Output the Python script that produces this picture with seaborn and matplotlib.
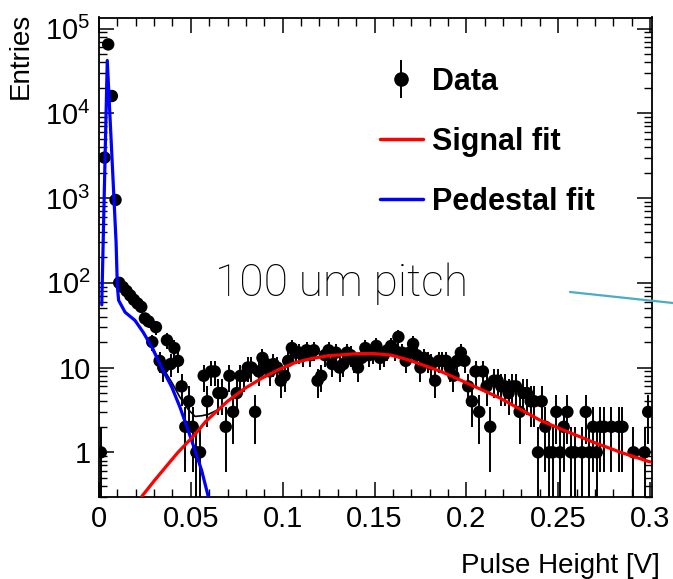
import numpy as np
import pandas as pd
import matplotlib
matplotlib.use("Agg")
import matplotlib.pyplot as plt
import seaborn as sns
from matplotlib.lines import Line2D
from matplotlib.legend_handler import HandlerTuple
from matplotlib.ticker import FixedLocator, MultipleLocator, LogLocator, NullFormatter

# ---- histogram of pulse heights (bin width 2 mV, 0 - 0.3 V) ----
bin_width = 0.002
counts = [
    1, 3000, 65000, 16000, 950, 100, 89, 80, 71, 63,
    57, 52, 38, 35, 20, 30, 12, 10, 21, 11,
    17, 12, 6, 2, 4, 2, 1, 1, 8, 4,
    9, 9, 5, 5, 2, 8, 3, 5, 8, 8,
    10, 10, 3, 9, 13, 11, 9, 11, 10, 7,
    8, 12, 17, 15, 15, 14, 16, 14, 16, 7,
    8, 14, 16, 11, 15, 10, 11, 15, 14, 12,
    10, 13, 17, 14, 15, 18, 13, 14, 16, 18,
    16, 23, 15, 12, 15, 19, 14, 10, 13, 12,
    11, 7, 12, 12, 12, 10, 8, 12, 15, 12,
    6, 4, 9, 3, 9, 6, 2, 7, 7, 6,
    6, 5, 6, 6, 3, 5, 5, 4, 4, 1,
    4, 2, 1, 1, 3, 1, 2, 3, 1, 1,
    0, 1, 3, 1, 2, 1, 2, 2, 0, 2,
    0, 2, 2, 0, 0, 1, 0, 0, 1, 3,
]

# ---- fitted curves ----
signal_x = [0.0232, 0.030, 0.037, 0.043, 0.052, 0.058, 0.070, 0.0795, 0.0887, 0.098,
            0.107, 0.116, 0.125, 0.141, 0.150, 0.159, 0.168, 0.177, 0.1866, 0.195,
            0.218, 0.240, 0.251, 0.269, 0.284, 0.300]
signal_y = [0.30, 0.46, 0.70, 1.0, 1.6, 2.3, 4.0, 5.7, 7.5, 9.5,
            11.5, 12.8, 13.8, 14.6, 14.6, 14.0, 12.4, 10.6, 8.9, 7.4,
            4.4, 2.4, 1.9, 1.32, 1.0, 0.77]

pedestal_x = [0.0015, 0.0045, 0.0093, 0.0100, 0.0107, 0.0142, 0.0196, 0.0241, 0.0287,
              0.0341, 0.0396, 0.0441, 0.0486, 0.0523, 0.0559, 0.0595]
pedestal_y = [55, 42000, 300, 90, 62, 45, 36, 26, 17.5,
              10, 5.9, 3.4, 1.8, 1.05, 0.61, 0.3]

total_x = [0.024, 0.029, 0.034, 0.0396, 0.0441, 0.0486, 0.0523, 0.0559, 0.0595, 0.065, 0.070, 0.075]
total_y = [26.3, 17.7, 10.6, 6.7, 4.45, 3.2, 2.65, 2.7, 2.8, 3.2, 4.05, 4.9]

xtick_vals = [0, 0.05, 0.1, 0.15, 0.2, 0.25, 0.3]
xtick_labels = ["0", "0.05", "0.1", "0.15", "0.2", "0.25", "0.3"]
ytick_vals = [1, 10, 1e2, 1e3, 1e4, 1e5]
ytick_labels = ["1", "10", r"$10^{2}$", r"$10^{3}$", r"$10^{4}$", r"$10^{5}$"]

sns.set_theme(style="ticks")
plt.rcParams["font.family"] = ["Liberation Sans", "DejaVu Sans"]
plt.rcParams["text.color"] = "black"
plt.rcParams["mathtext.fontset"] = "custom"
plt.rcParams["mathtext.rm"] = "Liberation Sans"
plt.rcParams["mathtext.it"] = "Liberation Sans:italic"
plt.rcParams["mathtext.bf"] = "Liberation Sans:bold"

W, H = 673, 579
fig = plt.figure(figsize=(W / 100, H / 100), dpi=100)
fig.patch.set_facecolor("white")
ax = fig.add_axes([99 / W, 1 - 497 / H, 552.5 / W, 479.5 / H])
ax.set_facecolor("white")
ax.set_yscale("log")

centers = 0.001 + bin_width * np.arange(len(counts))
df = pd.DataFrame({"x": centers, "n": np.asarray(counts, dtype=float)})
df = df[df["n"] > 0]
err = np.sqrt(df["n"])

# data points with Poisson error bars
ax.vlines(df["x"], np.clip(df["n"] - err, 1e-3, None), df["n"] + err,
          color="black", lw=1.4, zorder=2)
sns.scatterplot(data=df, x="x", y="n", ax=ax, color="black", s=80,
                edgecolor="none", zorder=2.5, legend=False)

# fit functions
sns.lineplot(x=total_x, y=total_y, ax=ax, color="black", lw=1.2,
             estimator=None, sort=False, zorder=3)
sns.lineplot(x=pedestal_x, y=pedestal_y, ax=ax, color="#0000ff", lw=2.3,
             estimator=None, sort=False, zorder=4)
sns.lineplot(x=signal_x, y=signal_y, ax=ax, color="#ff0000", lw=2.3,
             estimator=None, sort=False, zorder=4)

ax.set_xlim(0, 0.3008)
ax.set_ylim(0.297, 1.35e5)

ax.xaxis.set_major_locator(FixedLocator(xtick_vals))
ax.set_xticklabels(xtick_labels)
ax.xaxis.set_minor_locator(MultipleLocator(0.01))
ax.yaxis.set_major_locator(FixedLocator(ytick_vals))
ax.set_yticklabels(ytick_labels)
ax.yaxis.set_minor_locator(LogLocator(base=10, subs=np.arange(2, 10), numticks=20))
ax.yaxis.set_minor_formatter(NullFormatter())

ax.tick_params(which="both", direction="in", top=True, right=True,
               color="black", labelcolor="black", labelsize=21)
ax.tick_params(which="major", length=11, width=1.1, pad=6)
ax.tick_params(which="minor", length=6, width=1.0)
for s in ax.spines.values():
    s.set_color("black")
    s.set_linewidth(1.3)

ax.set_xlabel("Pulse Height [V]", fontsize=20, color="black", ha="right")
ax.xaxis.set_label_coords(1.0145, -0.117)
ax.set_ylabel("Entries", fontsize=20, color="black", ha="right")
ax.yaxis.set_label_coords(-0.118, 1.009)

# legend
data_h = (Line2D([], [], ls="none", marker="|", ms=27, mew=1.4, color="black"),
          Line2D([], [], ls="none", marker="o", ms=9.5, color="black"))
sig_h = Line2D([], [], color="#ff0000", lw=2.5)
ped_h = Line2D([], [], color="#0000ff", lw=2.5)
fig.legend([data_h, sig_h, ped_h], ["Data", "Signal fit", "Pedestal fit"],
           handler_map={tuple: HandlerTuple(ndivide=1)},
           loc="upper left", bbox_to_anchor=(380 / W, 1 - 67 / H),
           frameon=False, prop={"weight": "bold", "size": 22},
           labelcolor="black",
           handlelength=1.4, handletextpad=0.3, labelspacing=0.98,
           borderpad=0, borderaxespad=0)

fig.text(342 / W, 1 - 284 / H, "100 um pitch", ha="center", va="center",
         fontsize=32, color="black", family=["Roboto", "Open Sans", "DejaVu Sans"],
         weight="light")

fig.add_artist(Line2D([570 / W, 1.0], [1 - 292 / H, 1 - 303 / H],
                      transform=fig.transFigure, color="#4bacc6", lw=1.6))

fig.savefig("out.png", dpi=100, facecolor="white")
